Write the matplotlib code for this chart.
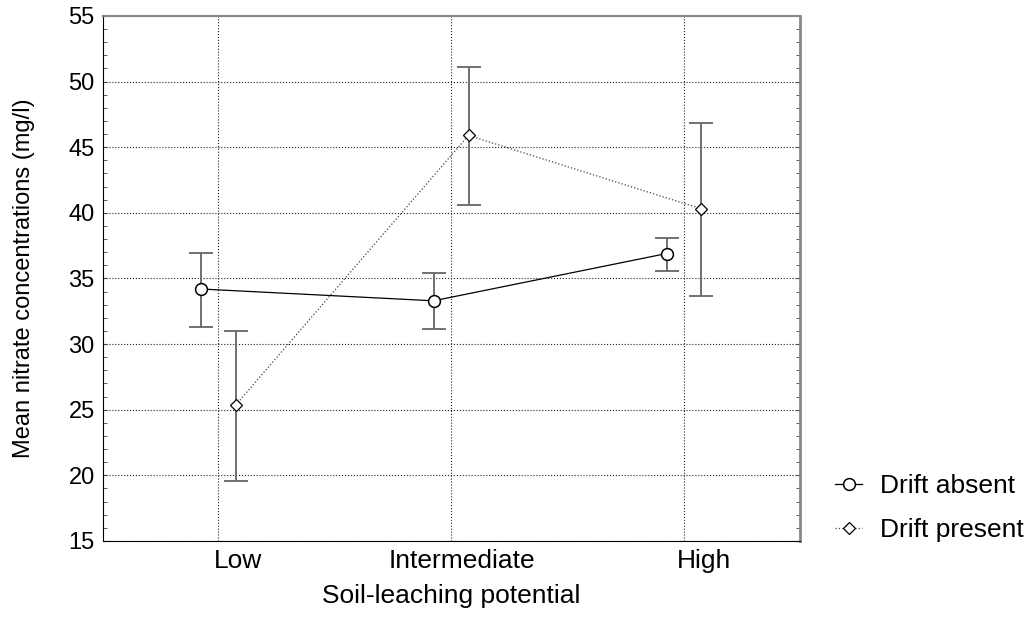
import matplotlib.pyplot as plt
from matplotlib.ticker import MultipleLocator

plt.rcParams['font.family'] = ['Liberation Sans', 'DejaVu Sans']

categories = ['Low', 'Intermediate', 'High']
absent_mean = [34.2, 33.3, 36.9]
absent_lo = [31.3, 31.15, 35.6]
absent_hi = [36.95, 35.4, 38.1]
present_mean = [25.35, 45.9, 40.3]
present_lo = [19.55, 40.6, 33.65]
present_hi = [31.0, 51.1, 46.85]

pos = [0, 1, 2]
off = 0.075
xa = [p - off for p in pos]
xp = [p + off for p in pos]

fig = plt.figure(figsize=(10.30, 6.17), dpi=100)
ax = fig.add_axes([0.1, 0.1232, 0.6767, 0.8509])

ea = [[m - l for m, l in zip(absent_mean, absent_lo)],
      [h - m for m, h in zip(absent_mean, absent_hi)]]
ep = [[m - l for m, l in zip(present_mean, present_lo)],
      [h - m for m, h in zip(present_mean, present_hi)]]

for x, y, e in [(xa, absent_mean, ea), (xp, present_mean, ep)]:
    _, caps, _ = ax.errorbar(x, y, yerr=e, fmt='none', ecolor='#666666',
                             elinewidth=1.3, capsize=8.3, capthick=1.3, zorder=3)
    for c in caps:
        c.set_color('#222222')

ax.plot(xa, absent_mean, '-', color='black', lw=0.9, marker='o', ms=8.5,
        mfc='white', mec='black', mew=1.1, label='Drift absent', zorder=4)
ax.plot(xp, present_mean, ':', color='#444444', lw=0.9, marker='D', ms=6.5,
        mfc='white', mec='black', mew=0.9, label='Drift present', zorder=4)

ax.set_xlim(-0.494, 2.498)
ax.set_ylim(15, 55)
ax.yaxis.set_major_locator(MultipleLocator(5))
ax.yaxis.set_minor_locator(MultipleLocator(1))
ax.set_xticks(pos)
ax.set_xticklabels([])
ax.tick_params(axis='x', length=0)
ax.tick_params(axis='y', which='both', direction='in', left=True, right=True,
               labelsize=17, pad=6, color='#444444')
ax.tick_params(axis='y', which='major', length=3)
ax.tick_params(axis='y', which='minor', length=3)

label_x = [0.084, 1.045, 2.088]
for lx, name in zip(label_x, categories):
    ax.text(lx, -0.016, name, transform=ax.get_xaxis_transform(),
            ha='center', va='top', fontsize=19)

ax.grid(True, which='major', linestyle=':', color='#222222', linewidth=0.8)
ax.set_axisbelow(True)

ax.spines['left'].set_color('black')
ax.spines['bottom'].set_color('black')
ax.spines['top'].set_color('#888888')
ax.spines['right'].set_color('#888888')
ax.spines['right'].set_linewidth(2)
ax.spines['top'].set_linewidth(1.5)

ax.text(0.5, -0.082, 'Soil-leaching potential', transform=ax.transAxes,
        ha='center', va='top', fontsize=19)
ax.set_ylabel('Mean nitrate concentrations (mg/l)', fontsize=17)
ax.yaxis.set_label_coords(-0.097, 0.5)

fig.legend(loc='lower left', bbox_to_anchor=(0.788, 0.083), frameon=False,
           fontsize=19, handlelength=1.0, labelspacing=0.75, handletextpad=0.7)

fig.savefig('out.png', dpi=100)
